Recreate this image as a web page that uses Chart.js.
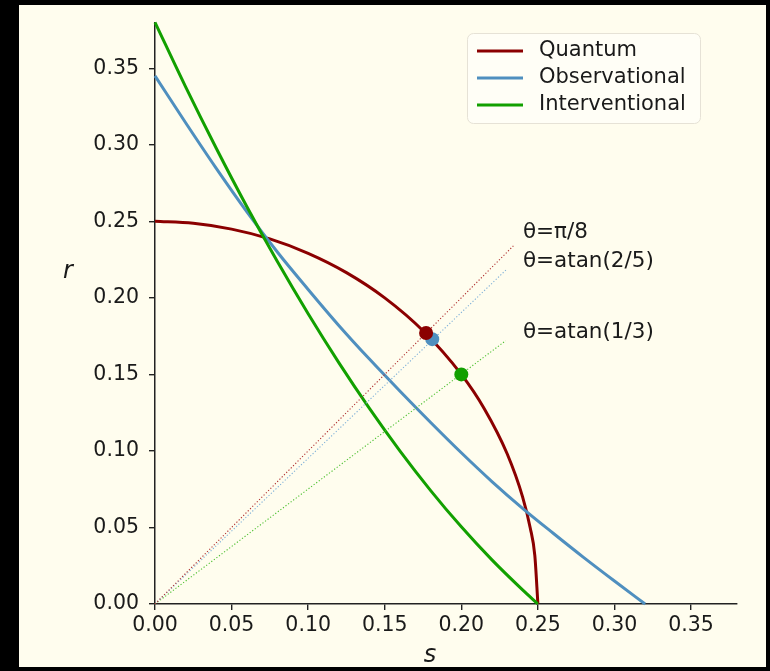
<!DOCTYPE html>
<html>
<head>
<meta charset="utf-8">
<script src="https://cdn.jsdelivr.net/npm/chart.js@4.4.0/dist/chart.umd.min.js"></script>
<style>
    html, body { margin: 0; padding: 0; background: #000; }
    #wrap { width: 770px; height: 671px; }
</style>
</head>
<body>
<div id="wrap"><canvas id="myChart" width="770" height="671"></canvas></div>
<script>
// series names / colours
let seriesNames = ['Quantum', 'Observational', 'Interventional'];
let seriesColors = ['#8b0000', '#4f8fbf', '#12a000'];

// Quantum curve (quarter circle)
let quantumS = [0, 0.025, 0.05, 0.075, 0.10, 0.125, 0.15, 0.175, 0.20, 0.215, 0.23, 0.24, 0.245, 0.248, 0.25];
let quantumR = [0.25, 0.2487, 0.2449, 0.2385, 0.2291, 0.2165, 0.200, 0.1785, 0.150, 0.1276, 0.098, 0.070, 0.0497, 0.0316, 0];

// Observational curve
let observationalS = [0, 0.02, 0.04, 0.06, 0.08, 0.10, 0.12, 0.14, 0.16, 0.18, 0.20, 0.22, 0.24, 0.26, 0.28, 0.30, 0.32];
let observationalR = [0.345, 0.3144, 0.2846, 0.2562, 0.2298, 0.2055, 0.1820, 0.1600, 0.1390, 0.1186, 0.0988, 0.0800, 0.0625, 0.0462, 0.0303, 0.0150, 0];

// Interventional curve
let interventionalS = [0, 0.02, 0.04, 0.06, 0.08, 0.10, 0.12, 0.14, 0.16, 0.18, 0.20, 0.22, 0.24, 0.25];
let interventionalR = [0.380, 0.3378, 0.2977, 0.2595, 0.2235, 0.1896, 0.1577, 0.1278, 0.0999, 0.0741, 0.0504, 0.0288, 0.0092, 0];

// marked points and the dotted rays through them
let dotS = [0.177, 0.181, 0.200];
let dotR = [0.177, 0.173, 0.150];
let rayEndS = [0.234, 0.230, 0.229];
let rayEndR = [0.234, 0.219, 0.172];
let rayColors = ['#b03030', '#7fb0d8', '#4cc030'];

// angle labels
let labelText = ['θ=π/8', 'θ=atan(2/5)', 'θ=atan(1/3)'];
let labelS = [0.2402, 0.2402, 0.2402];
let labelR = [0.2428, 0.2238, 0.1774];

// ticks
let xTicks = [0, 0.05, 0.10, 0.15, 0.20, 0.25, 0.30, 0.35];
let yTicks = [0, 0.05, 0.10, 0.15, 0.20, 0.25, 0.30, 0.35];

const cream = '#fffdee';
const ink = '#1a1a1a';
const fontFam = '"DejaVu Sans", Verdana, sans-serif';

function toPoints(xs, ys) {
    return xs.map((x, i) => ({ x: x, y: ys[i] }));
}

let curveS = [quantumS, observationalS, interventionalS];
let curveR = [quantumR, observationalR, interventionalR];

let datasets = [];

// dots
for (let i = 0; i < 3; i++) {
    datasets.push({
        label: 'dot' + i,
        data: [{ x: dotS[i], y: dotR[i] }],
        showLine: false,
        pointRadius: 7,
        pointBackgroundColor: seriesColors[i],
        pointBorderColor: seriesColors[i],
        pointBorderWidth: 0,
        order: i,
        clip: false
    });
}
// rays
for (let i = 0; i < 3; i++) {
    datasets.push({
        label: 'ray' + i,
        data: [{ x: 0, y: 0 }, { x: rayEndS[i], y: rayEndR[i] }],
        showLine: true,
        borderColor: rayColors[i],
        borderWidth: 1.1,
        borderDash: [1.2, 2],
        pointRadius: 0,
        order: 3 + i,
        clip: false
    });
}
// curves
for (let i = 0; i < 3; i++) {
    datasets.push({
        label: seriesNames[i],
        data: toPoints(curveS[i], curveR[i]),
        showLine: true,
        borderColor: seriesColors[i],
        borderWidth: 3,
        pointRadius: 0,
        cubicInterpolationMode: 'monotone',
        order: 8 - i,
        clip: false
    });
}

const framePlugin = {
    id: 'frame',
    beforeDraw(chart) {
        const ctx = chart.ctx;
        ctx.save();
        ctx.fillStyle = '#000';
        ctx.fillRect(0, 0, chart.width, chart.height);
        ctx.fillStyle = cream;
        ctx.fillRect(19, 5, 747, 662);
        ctx.restore();
    }
};

const extrasPlugin = {
    id: 'extras',
    afterDraw(chart) {
        const ctx = chart.ctx;
        const xs = chart.scales.x;
        const ys = chart.scales.y;
        ctx.save();

        // angle labels
        ctx.fillStyle = ink;
        ctx.font = '21.5px ' + fontFam;
        ctx.textAlign = 'left';
        ctx.textBaseline = 'middle';
        for (let i = 0; i < labelText.length; i++) {
            ctx.fillText(labelText[i], xs.getPixelForValue(labelS[i]), ys.getPixelForValue(labelR[i]));
        }

        // axis titles
        ctx.font = 'italic 24px ' + fontFam;
        ctx.textAlign = 'center';
        ctx.fillText('r', 68, 272);
        ctx.fillText('s', 430, 656);

        // legend
        const bx = 467.5, by = 33.5, bw = 233, bh = 90, rad = 6;
        ctx.beginPath();
        ctx.moveTo(bx + rad, by);
        ctx.arcTo(bx + bw, by, bx + bw, by + bh, rad);
        ctx.arcTo(bx + bw, by + bh, bx, by + bh, rad);
        ctx.arcTo(bx, by + bh, bx, by, rad);
        ctx.arcTo(bx, by, bx + bw, by, rad);
        ctx.closePath();
        ctx.fillStyle = 'rgba(255,255,255,0.45)';
        ctx.fill();
        ctx.strokeStyle = '#e6e2d6';
        ctx.lineWidth = 1;
        ctx.stroke();

        ctx.font = '21px ' + fontFam;
        ctx.textAlign = 'left';
        ctx.textBaseline = 'middle';
        for (let i = 0; i < seriesNames.length; i++) {
            const yy = 51 + i * 27;
            ctx.strokeStyle = seriesColors[i];
            ctx.lineWidth = 3;
            ctx.beginPath();
            ctx.moveTo(477, yy);
            ctx.lineTo(523, yy);
            ctx.stroke();
            ctx.fillStyle = ink;
            ctx.fillText(seriesNames[i], 539, yy);
        }
        ctx.restore();
    }
};

const tickFont = { family: fontFam, size: 20.5 };

new Chart(document.getElementById('myChart'), {
    type: 'scatter',
    data: { datasets: datasets },
    options: {
        responsive: false,
        animation: false,
        devicePixelRatio: 1,
        layout: { padding: { left: 0, top: 22, right: 33, bottom: 0 } },
        plugins: {
            legend: { display: false },
            tooltip: { enabled: false },
            title: { display: false }
        },
        scales: {
            x: {
                type: 'linear',
                min: 0,
                max: 0.38,
                afterBuildTicks: (scale) => { scale.ticks = xTicks.map(v => ({ value: v })); },
                afterFit: (scale) => { scale.height = 67; },
                ticks: {
                    callback: (v) => Number(v).toFixed(2),
                    font: tickFont,
                    color: ink,
                    padding: 3,
                    maxRotation: 0,
                    autoSkip: false
                },
                grid: { drawOnChartArea: false, drawTicks: true, tickLength: 6, color: '#222', lineWidth: 1.4 },
                border: { display: true, color: '#222', width: 1.5 }
            },
            y: {
                type: 'linear',
                min: 0,
                max: 0.38,
                afterBuildTicks: (scale) => { scale.ticks = yTicks.map(v => ({ value: v })); },
                afterFit: (scale) => { scale.width = 155; },
                ticks: {
                    callback: (v) => Number(v).toFixed(2),
                    font: tickFont,
                    color: ink,
                    padding: 10,
                    autoSkip: false
                },
                grid: { drawOnChartArea: false, drawTicks: true, tickLength: 6, color: '#222', lineWidth: 1.4 },
                border: { display: true, color: '#222', width: 1.5 }
            }
        }
    },
    plugins: [framePlugin, extrasPlugin]
});
</script>
</body>
</html>
